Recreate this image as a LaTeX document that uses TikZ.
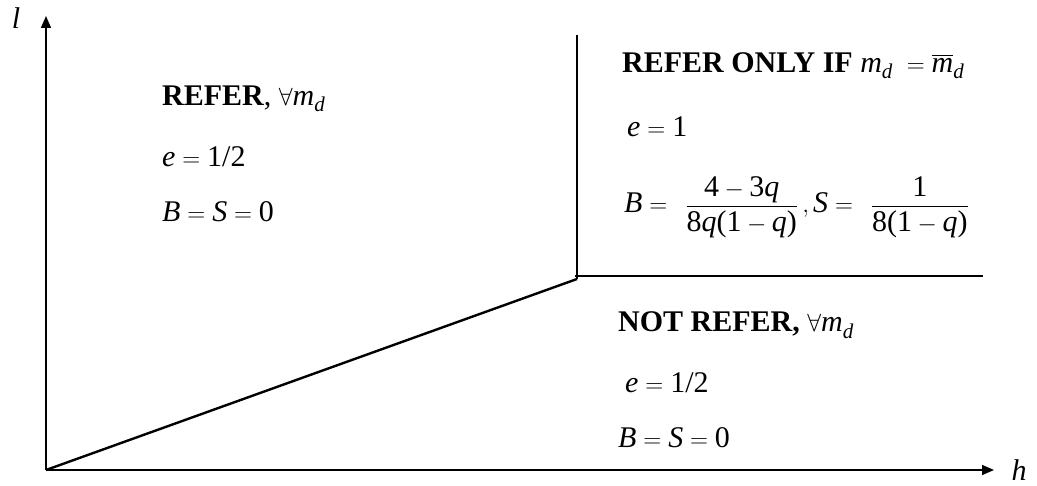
\documentclass[tikz,border=0pt]{standalone}
\usepackage{amsmath}
\usepackage{fontspec}
\setmainfont{Liberation Serif}
\usetikzlibrary{arrows.meta}
\newcommand{\vi}[1]{\text{\itshape #1}}
\newcommand{\up}[1]{\text{#1}}
\newcommand{\sbd}{_{\vi{d}}}
\tikzset{
  axis/.style={line width=1.6pt,-{Triangle[length=12pt,width=10pt]}},
  border/.style={line width=2.4pt},
  thinborder/.style={line width=1.8pt},
  lab/.style={anchor=base west,inner sep=0pt,font=\fontsize{30}{34}\selectfont},
  axlab/.style={inner sep=0pt,font=\fontsize{30}{34}\selectfont\itshape}
}
\begin{document}
\begin{tikzpicture}[x=1pt,y=-1pt]
\useasboundingbox (0,0) rectangle (1037,486);
\coordinate (O) at (46,470);
\coordinate (Ytip) at (46,16);
\coordinate (Xtip) at (994,470);
\coordinate (K) at (577,279);
\coordinate (T) at (577,35);
\coordinate (H1) at (575,276);
\coordinate (H2) at (983,276);
\draw[axis] (O) -- (Ytip);
\draw[axis] (O) -- (Xtip);
\draw[border] (O) -- (K);
\draw[border] (K) -- (T);
\draw[thinborder] (H1) -- (H2);
\node[axlab] (ll) at (16,18) {l};
\node[axlab] (hl) at (1019,470) {h};
% left region
\node[lab] (r1) at (162,106) {\textbf{REFER}, $\forall \vi{m}\sbd$};
\node[lab] (r2) at (162,167) {$\vi{e} = \up{1/2}$};
\node[lab] (r3) at (162,222) {$\vi{B} = \vi{S} = \up{0}$};
% upper right
\node[lab] (u1) at (622,73) {\textbf{REFER ONLY IF} $\vi{m}\sbd \;= \overline{\vi{m}}\sbd$};
\node[lab] (u2) at (627,137) {$\vi{e} = \up{1}$};
\node[lab] (u3) at (624,213) {$\displaystyle \vi{B} =\;\, \frac{\up{4} - \up{3}\vi{q}}{\up{8}\vi{q}\up{(1} - \vi{q}\up{)}}\,, \vi{S} =\;\, \frac{\up{1}}{\up{8(1} - \vi{q}\up{)}}$};
% lower right
\node[lab] (d1) at (618,332) {\textbf{NOT REFER,} $\forall \vi{m}\sbd$};
\node[lab] (d2) at (625,393) {$\vi{e} = \up{1/2}$};
\node[lab] (d3) at (618,448) {$\vi{B} = \vi{S} = \up{0}$};
\end{tikzpicture}
\end{document}
